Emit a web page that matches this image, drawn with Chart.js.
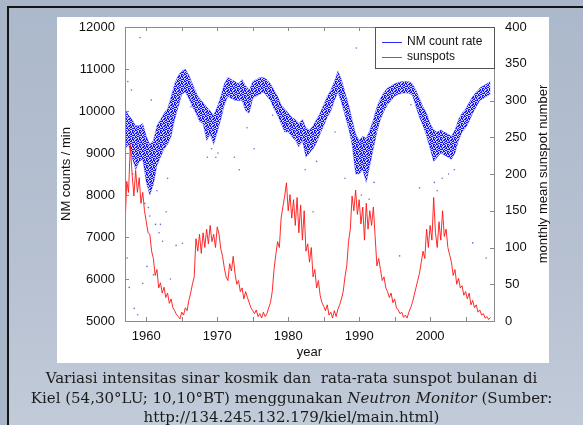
<!DOCTYPE html>
<html>
<head>
<meta charset="utf-8">
<script src="https://cdn.jsdelivr.net/npm/chart.js@4/dist/chart.umd.min.js"></script>
<style>
  html, body { margin: 0; padding: 0; }
  body { width: 583px; height: 425px; overflow: hidden; position: relative; background: #a9b5c9; }
  #frame { position: absolute; left: 7px; top: 6px; width: 600px; height: 440px;
    border-left: 2px solid #151515; border-top: 2px solid #151515;
    background: linear-gradient(to bottom, #acb8cb 0%, #b7c1d2 60%, #c3ccd9 100%); }
  #panel { position: absolute; left: 57px; top: 17px; width: 492px; height: 346px; background: #fff; }
  #chart { position: absolute; left: 0; top: 0; }
  #caption { position: absolute; left: 0; top: 369px; width: 583px; text-align: center;
    font-family: "DejaVu Serif", serif; font-size: 15px; line-height: 19.5px; color: #1b1b1b; }
</style>
</head>
<body>
<div id="frame"></div>
<div id="panel"></div>
<canvas id="chart" width="583" height="425"></canvas>
<div id="caption">
  Variasi intensitas sinar kosmik dan&nbsp; rata-rata sunspot bulanan di<br>
  Kiel (54,30°LU; 10,10°BT) menggunakan <i>Neutron Monitor</i> (Sumber:<br>
  http://134.245.132.179/kiel/main.html)
</div>
<script>
// monthly mean sunspot number, read every quarter year from 1957.0
const sunspotStart = 1957;
const sunspotStep = 0.25;
const sunspots = [
  130, 190, 175, 240,  200, 170, 205, 175,  195, 160, 175, 150,  135, 120, 118, 95,
  85, 62, 70, 45,      52, 38, 46, 32,      38, 24, 30, 18,      14, 9, 6, 3,
  12, 8, 18, 14,       28, 38, 50, 60,      112, 95, 118, 92,    120, 100, 125, 105,
  130, 108, 118, 100,  128, 118, 98, 88,    72, 60, 55, 78,      68, 88, 65, 50,
  55, 40, 45, 30,      40, 32, 25, 18,      14, 10, 15, 6,       10, 4, 12, 6,
  10, 18, 25, 40,      70, 90, 108, 100,    140, 155, 170, 188,  150, 172, 140, 165,
  130, 168, 120, 158,  110, 150, 95, 105,   80, 100, 60, 70,     45, 55, 35, 25,
  20, 14, 22, 8,       12, 4, 14, 6,        16, 22, 30, 40,      60, 75, 108, 125,
  170, 150, 178, 145,  165, 132, 155, 110,  160, 125, 150, 130,  155, 115, 75, 85,
  70, 55, 60, 45,      40, 32, 38, 25,      30, 18, 15, 10,      12, 5, 8, 4,
  12, 18, 25, 35,      45, 55, 65, 80,      95, 85, 125, 100,    130, 110, 168, 120,
  100, 135, 110, 150,  115, 125, 100, 90,   80, 62, 70, 50,      58, 45, 48, 35,
  40, 30, 38, 22,      28, 18, 22, 12,      15, 8, 10, 4,        6, 2, 5
];

// NM count rate band (upper / lower edge of the dense dots), every half year from 1957.0
const nmStart = 1957;
const nmStep = 0.5;
const nmUpper = [
  10050, 9900, 9800, 9650, 9650, 9700, 9400, 9200, 9300, 9650,
  9800, 9950, 10050, 10350, 10650, 10850, 10950, 11000, 10850, 10650,
  10450, 10300, 10200, 10100, 10000, 9900, 10100, 10350, 10650, 10800,
  10750, 10700, 10650, 10750, 10600, 10500, 10700, 10750, 10800, 10800,
  10750, 10650, 10500, 10350, 10150, 10050, 9950, 9850, 9800, 9700,
  9800, 9600, 9550, 9650, 9800, 9950, 10150, 10350, 10500, 10700,
  10950, 10750, 10450, 10150, 9800, 9450, 9300, 9400, 9350, 9550,
  9800, 10100, 10300, 10450, 10550, 10600, 10650, 10680, 10700, 10700,
  10700, 10650, 10500, 10300, 10100, 9950, 9700, 9550, 9500, 9550,
  9500, 9450, 9400, 9550, 9800, 9950, 10050, 10200, 10350, 10450,
  10550, 10600, 10650, 10700
];
const nmLower = [
  9100, 9200, 8900, 8600, 8800, 8850, 8300, 8000, 8250, 8700,
  8900, 9100, 9200, 9400, 9800, 10100, 10400, 10450, 10300, 10100,
  9950, 9750, 9700, 9300, 9450, 9200, 9500, 9800, 10150, 10350,
  10300, 10250, 10250, 10250, 10000, 9950, 10300, 10350, 10400, 10450,
  10350, 10250, 10050, 9900, 9700, 9500, 9500, 9400, 9300, 9150,
  9300, 8900, 9000, 9100, 9250, 9450, 9650, 9850, 10000, 10250,
  10450, 10200, 9900, 9600, 9200, 8500, 8500, 8600, 8300, 8700,
  9100, 9500, 9800, 10000, 10150, 10250, 10350, 10400, 10420, 10430,
  10420, 10380, 10100, 9850, 9650, 9400, 9100, 8800, 8900, 9000,
  8950, 8900, 8850, 9000, 9300, 9500, 9600, 9750, 9950, 10100,
  10250, 10300, 10350, 10400
];

// scattered single readings away from the band
const nmOutYears = [1957.3, 1957.6, 1957.9, 1958.3, 1958.8, 1959.1, 1959.5, 1960.1, 1960.5, 1960.7,
  1961.0, 1961.3, 1961.8, 1962.3, 1962.8, 1963.4, 1964.2, 1965.1, 1968.6, 1969.8,
  1972.4, 1973.1, 1975.2, 1979.6, 1983.5, 1988.0, 1989.6, 1995.7, 1998.5, 2006.0,
  2007.9, 2001.0, 1957.4, 1958.1, 1959.8, 1960.3, 1961.5, 1962.0, 1963.0, 1969.2,
  1970.1, 1974.2, 1977.8, 1982.4, 1984.0, 1990.3, 1991.4, 1992.1, 1997.3, 2000.6,
  2001.7, 2002.6, 2003.4, 1966.3, 1986.6];
const nmOutValues = [6500, 5800, 10500, 5300, 5150, 11750, 5900, 6300, 7500, 10260,
  6100, 7300, 7100, 6900, 7600, 6000, 6800, 6850, 8900, 8900,
  8900, 8600, 9100, 9700, 7600, 8400, 11500, 6550, 8170, 6860,
  6500, 8100, 10700, 8500, 7800, 7700, 8100, 7300, 8400, 9100,
  9000, 9600, 9900, 8600, 8800, 8000, 7900, 8300, 10150, 8300,
  8400, 8500, 8600, 10100, 9500];

const xTicks = [1960, 1965, 1970, 1975, 1980, 1985, 1990, 1995, 2000, 2005];

const series = (start, step, vals) => vals.map((v, i) => ({ x: start + i * step, y: v }));

// speckled blue fill that looks like the dense dots of the original
function dotPattern() {
  const rows = [
    'x.xx.x.',
    '.x..xx.',
    'xx.x..x',
    '..x.xx.',
    'x.xx..x',
    '.x..x.x',
    'x..xx.x'
  ];
  const c = document.createElement('canvas');
  c.width = 7; c.height = 7;
  const g = c.getContext('2d');
  g.fillStyle = 'rgba(60,60,255,0.25)';
  g.fillRect(0, 0, 7, 7);
  g.fillStyle = 'rgba(10,10,250,0.95)';
  rows.forEach((r, y) => r.split('').forEach((ch, x) => { if (ch === 'x') g.fillRect(x, y, 1, 1); }));
  return g.createPattern(c, 'repeat');
}

const font = 'Liberation Sans, Arial, sans-serif';

const framePlugin = {
  id: 'frame',
  afterDraw(chart) {
    const { ctx, chartArea: a, scales } = chart;
    ctx.save();
    ctx.strokeStyle = '#8a8a8a';
    ctx.lineWidth = 1;
    ctx.strokeRect(a.left + 0.5, a.top + 0.5, a.right - a.left, a.bottom - a.top);
    ctx.beginPath();
    xTicks.forEach(v => {
      const x = Math.round(scales.x.getPixelForValue(v)) + 0.5;
      ctx.moveTo(x, a.bottom); ctx.lineTo(x, a.bottom - 4);
      ctx.moveTo(x, a.top); ctx.lineTo(x, a.top + 4);
    });
    scales.y.ticks.forEach(t => {
      const y = Math.round(scales.y.getPixelForValue(t.value)) + 0.5;
      ctx.moveTo(a.left, y); ctx.lineTo(a.left + 4, y);
    });
    scales.y1.ticks.forEach(t => {
      const y = Math.round(scales.y1.getPixelForValue(t.value)) + 0.5;
      ctx.moveTo(a.right, y); ctx.lineTo(a.right - 4, y);
    });
    ctx.stroke();

    // right axis title, read bottom to top like the left one
    ctx.save();
    ctx.translate(543, (a.top + a.bottom) / 2);
    ctx.rotate(-Math.PI / 2);
    ctx.font = '13px ' + font;
    ctx.fillStyle = '#111';
    ctx.textAlign = 'center';
    ctx.textBaseline = 'middle';
    ctx.fillText('monthly mean sunspot number', 0, 0);
    ctx.restore();

    // legend box in the upper right corner
    const lx = 375, ly = a.top, lw = a.right - 375, lh = 41;
    ctx.fillStyle = '#fff';
    ctx.fillRect(lx, ly, lw, lh);
    ctx.strokeStyle = '#555';
    ctx.strokeRect(lx + 0.5, ly + 0.5, lw, lh);
    const items = [['NM count rate', '#2a2aff'], ['sunspots', '#e23a3a']];
    ctx.font = '12px ' + font;
    ctx.textBaseline = 'middle';
    ctx.textAlign = 'left';
    items.forEach((it, i) => {
      const y = ly + 15 + i * 15;
      ctx.strokeStyle = it[1];
      ctx.beginPath();
      ctx.moveTo(382, y + 0.5); ctx.lineTo(402, y + 0.5);
      ctx.stroke();
      ctx.fillStyle = '#111';
      ctx.fillText(it[0], 407, y);
    });
    ctx.restore();
  }
};

new Chart(document.getElementById('chart'), {
  type: 'scatter',
  data: {
    datasets: [
      {
        label: 'sunspots',
        data: series(sunspotStart, sunspotStep, sunspots),
        yAxisID: 'y1',
        showLine: true,
        borderColor: 'rgba(255,20,20,0.9)',
        borderWidth: 1,
        pointRadius: 0,
        order: 0
      },
      {
        label: 'nm-lower',
        data: series(nmStart, nmStep, nmLower),
        yAxisID: 'y',
        showLine: true,
        borderColor: 'rgba(60,60,255,0.3)',
        borderWidth: 1,
        pointRadius: 0,
        order: 2
      },
      {
        label: 'NM count rate',
        data: series(nmStart, nmStep, nmUpper),
        yAxisID: 'y',
        showLine: true,
        borderColor: 'rgba(60,60,255,0.3)',
        borderWidth: 1,
        pointRadius: 0,
        fill: '-1',
        backgroundColor: dotPattern(),
        order: 1
      },
      {
        label: 'nm-scatter',
        data: nmOutYears.map((x, i) => ({ x, y: nmOutValues[i] })),
        yAxisID: 'y',
        pointRadius: 0.8,
        pointBorderWidth: 0,
        pointBackgroundColor: 'rgba(60,60,190,0.75)',
        order: 3
      }
    ]
  },
  options: {
    responsive: false,
    animation: false,
    layout: { padding: { left: 57, right: 34, top: 27, bottom: 62 } },
    plugins: { legend: { display: false }, tooltip: { enabled: false } },
    scales: {
      x: {
        type: 'linear',
        min: 1957,
        max: 2009,
        afterBuildTicks: s => { s.ticks = xTicks.map(v => ({ value: v })); },
        afterFit: s => { s.height = 42; },
        grid: { display: false, drawTicks: false },
        border: { display: false },
        ticks: { padding: 8, color: '#111', font: { size: 13, family: font },
          callback: v => (v % 10 === 0 ? String(v) : '') },
        title: { display: true, text: 'year', color: '#111', font: { size: 13, family: font }, padding: { top: 0, bottom: 3 } }
      },
      y: {
        position: 'left',
        min: 5000,
        max: 12000,
        afterFit: s => { s.width = 68; },
        grid: { display: false, drawTicks: false },
        border: { display: false },
        ticks: { stepSize: 1000, padding: 10, color: '#111', font: { size: 13, family: font },
          callback: v => String(v) },
        title: { display: true, text: 'NM counts / min', color: '#111', font: { size: 13, family: font }, padding: 2 }
      },
      y1: {
        position: 'right',
        min: 0,
        max: 400,
        afterFit: s => { s.width = 55; },
        grid: { display: false, drawTicks: false },
        border: { display: false },
        ticks: { stepSize: 50, padding: 11, color: '#111', font: { size: 13, family: font },
          callback: v => String(v) },
        title: { display: false }
      }
    }
  },
  plugins: [framePlugin]
});
</script>
</body>
</html>
